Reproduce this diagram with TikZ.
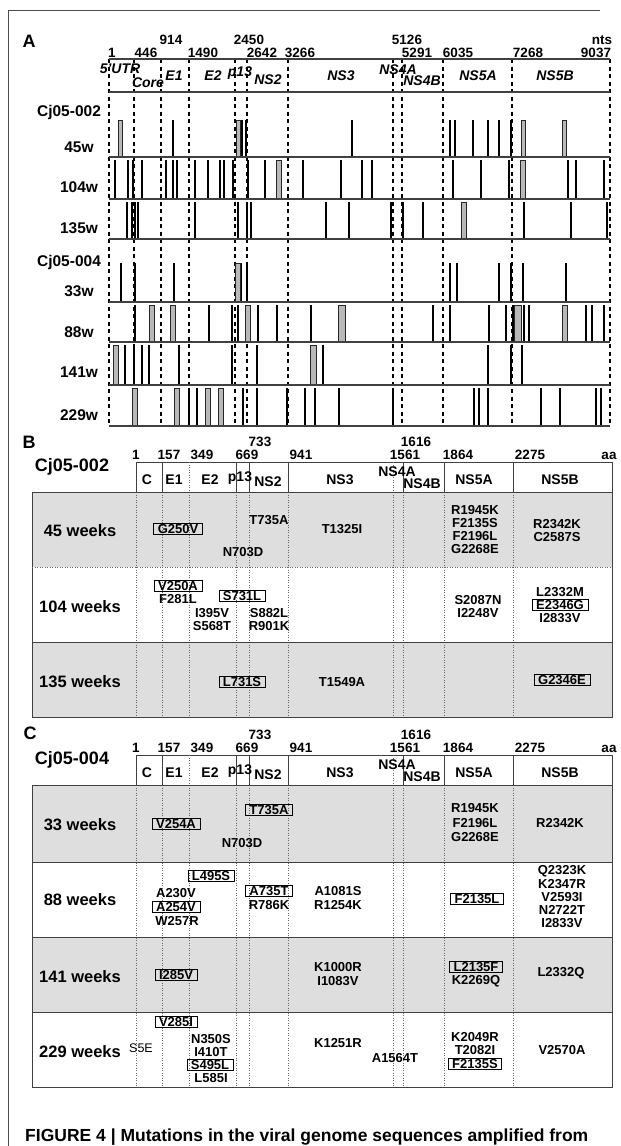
\documentclass[tikz,border=0pt]{standalone}
\usepackage{fontspec}
\setmainfont{Liberation Sans}
\newcommand\mt[4]{\node[mut] (#1) at (#2,#3) {#4};}
\newcommand\mtb[4]{\node[mutbox] (#1) at (#2,#3) {#4};}
\newcommand\hdr[3]{%
 \node[num] (#1a) at (136,#2-3) {1};
 \node[num] (#1b) at (169,#2-3) {157};
 \node[num] (#1c) at (202,#2-3) {349};
 \node[num] (#1d) at (247,#2-3) {669};
 \node[num] (#1e) at (260,#2-16) {733};
 \node[num] (#1f) at (301,#2-3) {941};
 \node[num] (#1g) at (416,#2-16) {1616};
 \node[num] (#1h) at (405,#2-3) {1561};
 \node[num] (#1i) at (458,#2-3) {1864};
 \node[num] (#1j) at (530,#2-3) {2275};
 \node[num] (#1k) at (609,#2-3) {aa};
 \node[cj] (#1cj) at (72,#2+5) {#3};
 \draw[rule] (136,#2) rectangle (612,#2+30);
 \foreach \x in {162,236,249,288,403,444,513} \draw[rule,line width=0.6pt] (\x,#2) -- (\x,#2+30);
 \foreach \x in {189,393} \draw[dotv] (\x,#2) -- (\x,#2+30);
 \node[geneb] (#1gC) at (147,#2+17.5) {C};
 \node[geneb] (#1gE1) at (174,#2+17.5) {E1};
 \node[geneb] (#1gE2) at (210,#2+17.5) {E2};
 \node[geneb] (#1gp) at (240,#2+16) {p13};
 \node[geneb] (#1gN2) at (268,#2+20) {NS2};
 \node[geneb] (#1gN3) at (340,#2+17.5) {NS3};
 \node[geneb] (#1gN4A) at (397,#2+10) {NS4A};
 \node[geneb] (#1gN4B) at (422,#2+22) {NS4B};
 \node[geneb] (#1gN5A) at (474,#2+17.5) {NS5A};
 \node[geneb] (#1gN5B) at (560,#2+17.5) {NS5B};
}
\begin{document}
\begin{tikzpicture}[x=1pt,y=-1pt,
 lbl/.style={font=\bfseries\fontsize{15.5}{16}\selectfont,inner sep=0pt},
 num/.style={font=\bfseries\fontsize{13.5}{14}\selectfont,inner sep=0pt,anchor=base},
 genea/.style={font=\bfseries\itshape\fontsize{14}{14}\selectfont,inner sep=0pt},
 geneb/.style={font=\bfseries\fontsize{14}{14}\selectfont,inner sep=0pt},
 mut/.style={font=\bfseries\fontsize{13}{13}\selectfont,inner sep=0pt},
 mutbox/.style={mut,draw,line width=0.7pt,inner xsep=4pt,inner ysep=1.2pt},
 rowlbl/.style={font=\bfseries\fontsize{16.5}{17}\selectfont,inner sep=0pt},
 cj/.style={font=\bfseries\fontsize{18}{18}\selectfont,inner sep=0pt},
 panel/.style={font=\bfseries\fontsize{18}{18}\selectfont,inner sep=0pt},
 dashv/.style={line width=1.1pt,dash pattern=on 4pt off 3.5pt},
 blk/.style={line width=1.6pt},
 gry/.style={fill=gray!55,draw=black!85,line width=0.5pt},
 baseln/.style={line width=2pt,black!75},
 dotv/.style={black!60,line width=0.6pt,dash pattern=on 1pt off 1.5pt},
 shade/.style={fill=black!13},
 rule/.style={line width=0.8pt,black!75}
]
\useasboundingbox (0,0) rectangle (621,1146);
\draw[black!70,line width=1pt] (8,1146) -- (8,10) -- (600,10);
% ---------------- Panel A
\node[panel] (A) at (29,41) {A};
\node[num] (n914) at (171,44) {914};
\node[num] (n2450) at (249,44) {2450};
\node[num] (n5126) at (407,44) {5126};
\node[num] (nnts) at (602,44) {nts};
\node[num] (n1) at (112,57) {1};
\node[num] (n446) at (146,57) {446};
\node[num] (n1490) at (203,57) {1490};
\node[num] (n2642) at (262,57) {2642};
\node[num] (n3266) at (300,57) {3266};
\node[num] (n5291) at (417,57) {5291};
\node[num] (n6035) at (458,57) {6035};
\node[num] (n7268) at (528,57) {7268};
\node[num] (n9037) at (596,57) {9037};
\foreach \x in {109,134,161,189,235,247,288,393,402,443,512,610} \draw[dashv] (\x,59) -- (\x,426);
\draw[baseln] (109,59) -- (610,59);
\draw[baseln] (109,92) -- (610,92);
\node[genea] (gUTR) at (120,69) {5'UTR};
\node[genea] (gCore) at (148,83) {Core};
\node[genea] (gE1) at (174,76) {E1};
\node[genea] (gE2) at (213,76) {E2};
\node[genea] (gp13) at (240,73) {p13};
\node[genea] (gNS2) at (268,80) {NS2};
\node[genea] (gNS3) at (341,76) {NS3};
\node[genea] (gNS4A) at (398,70) {NS4A};
\node[genea] (gNS4B) at (422,81) {NS4B};
\node[genea] (gNS5A) at (478,76) {NS5A};
\node[genea] (gNS5B) at (555,76) {NS5B};
\node[lbl] (c2) at (69,112) {Cj05-002};
\node[lbl] (w45) at (79,147) {45w};
\node[lbl] (w104) at (79,187) {104w};
\node[lbl] (w135) at (79,228) {135w};
\node[lbl] (c4) at (69,262) {Cj05-004};
\node[lbl] (w33) at (79,291) {33w};
\node[lbl] (w88) at (79,332) {88w};
\node[lbl] (w141) at (79,372) {141w};
\node[lbl] (w229) at (79,415) {229w};
% 45w
\foreach \x in {173,242,246,352,450,455,473,488,499,511} \draw[blk] (\x,120) -- (\x,157);
\foreach \x in {120,238,523,564} \filldraw[gry] (\x-2,120) rectangle (\x+2,157);
% 104w
\foreach \x in {115,128,133,142,166,173,177,195,208,220,224,233,248,265,303,341,362,372,453,481,509,568,576,604} \draw[blk] (\x,160) -- (\x,199);
\foreach \x in {279,523} \filldraw[gry] (\x-2.5,160) rectangle (\x+2.5,199);
% 135w
\foreach \x in {127,132,135,138,195,238,247,251,326,349,391,403,423,524,571,607} \draw[blk] (\x,202) -- (\x,239);
\foreach \x in {464} \filldraw[gry] (\x-2.5,202) rectangle (\x+2.5,239);
% 33w
\foreach \x in {121,135,174,241,247,450,457,499,511,523,566} \draw[blk] (\x,263) -- (\x,302);
\foreach \x in {238} \filldraw[gry] (\x-2.5,263) rectangle (\x+2.5,302);
% 88w
\foreach \x in {135,209,232,238,258,277,311,433,450,489,506,513,524,529,586,592,604} \draw[blk] (\x,305) -- (\x,342);
\foreach \x in {152,173,248,565} \filldraw[gry] (\x-2.5,305) rectangle (\x+2.5,342);
\foreach \x in {342,518} \filldraw[gry] (\x-3.5,305) rectangle (\x+3.5,342);
% 141w
\foreach \x in {125,134,142,149,179,232,257,323,488,511,522} \draw[blk] (\x,345) -- (\x,385);
\foreach \x in {116} \filldraw[gry] (\x-2.5,345) rectangle (\x+2.5,385);
\foreach \x in {313} \filldraw[gry] (\x-3,345) rectangle (\x+3,385);
% 229w
\foreach \x in {189,197,243,257,287,305,315,339,393,474,479,488,541,560,596,601} \draw[blk] (\x,388) -- (\x,426);
\foreach \x in {135,177,208,221} \filldraw[gry] (\x-2.5,388) rectangle (\x+2.5,426);
\foreach \y in {157,199,239,302,342,385,426} \draw[baseln] (109,\y) -- (610,\y);
% ---------------- Panel B
\fill[shade] (32,492) rectangle (612,567);
\fill[shade] (32,642) rectangle (612,717);
\foreach \x in {136,162,189,236,249,288,393,403,444,513} \draw[dotv] (\x,492) -- (\x,717);
\draw[rule] (32,492) rectangle (612,717);
\draw[dotv] (32,567) -- (612,567);
\draw[rule] (32,642) -- (612,642);
\node[panel] (B) at (29,442) {B};
\hdr{B}{462}{Cj05-002}
\node[rowlbl] (bw45) at (80,531) {45 weeks};
\node[rowlbl] (bw104) at (80,607) {104 weeks};
\node[rowlbl] (bw135) at (80,682) {135 weeks};
\mtb{b1}{178}{529}{G250V}
\mt{b2}{269}{520}{T735A}
\mt{b3}{243}{552}{N703D}
\mt{b4}{342}{529}{T1325I}
\mt{b5}{475}{510}{R1945K}
\mt{b6}{475}{523}{F2135S}
\mt{b7}{475}{536}{F2196L}
\mt{b8}{475}{549}{G2268E}
\mt{b9}{557}{524}{R2342K}
\mt{b10}{557}{537}{C2587S}
\mtb{b11}{178}{586}{V250A}
\mt{b12}{178}{599}{F281L}
\mtb{b13}{242}{596}{S731L}
\mt{b14}{212}{613}{I395V}
\mt{b15}{212}{626}{S568T}
\mt{b16}{269}{613}{S882L}
\mt{b17}{269}{626}{R901K}
\mt{b18}{478}{600}{S2087N}
\mt{b19}{478}{613}{I2248V}
\mt{b20}{560}{592}{L2332M}
\mtb{b21}{560}{605}{E2346G}
\mt{b22}{560}{618}{I2833V}
\mtb{b23}{242}{682}{L731S}
\mt{b24}{342}{682}{T1549A}
\mtb{b25}{562}{680}{G2346E}
% ---------------- Panel C
\fill[shade] (32,785) rectangle (612,862);
\fill[shade] (32,937) rectangle (612,1012);
\foreach \x in {136,162,189,236,249,288,393,403,444,513} \draw[dotv] (\x,785) -- (\x,1087);
\draw[rule] (32,785) rectangle (612,1087);
\foreach \y in {862,937,1012} \draw[rule] (32,\y) -- (612,\y);
\node[panel] (C) at (30,733) {C};
\hdr{C}{755}{Cj05-004}
\node[rowlbl] (cw33) at (80,825) {33 weeks};
\node[rowlbl] (cw88) at (80,900) {88 weeks};
\node[rowlbl] (cw141) at (80,977) {141 weeks};
\node[rowlbl] (cw229) at (80,1052) {229 weeks};
\mtb{c1}{176}{824}{V254A}
\mtb{c2}{269}{810}{T735A}
\mt{c3}{242}{843}{N703D}
\mt{c4}{475}{808}{R1945K}
\mt{c5}{475}{823}{F2196L}
\mt{c6}{475}{837}{G2268E}
\mt{c7}{560}{823}{R2342K}
\mtb{c8}{211}{876}{L495S}
\mt{c9}{176}{893}{A230V}
\mtb{c10}{176}{907}{A254V}
\mt{c11}{177}{921}{W257R}
\mtb{c12}{269}{891}{A735T}
\mt{c13}{269}{905}{R786K}
\mt{c14}{338}{891}{A1081S}
\mt{c15}{338}{905}{R1254K}
\mtb{c16}{477}{899}{F2135L}
\mt{c17}{562}{871}{Q2323K}
\mt{c18}{562}{884}{K2347R}
\mt{c19}{562}{897}{V2593I}
\mt{c20}{562}{910}{N2722T}
\mt{c21}{562}{923}{I2833V}
\mtb{c22}{176}{975}{I285V}
\mt{c23}{338}{967}{K1000R}
\mt{c24}{338}{981}{I1083V}
\mtb{c25}{476}{967}{L2135F}
\mt{c26}{476}{981}{K2269Q}
\mt{c27}{561}{973}{L2332Q}
\mtb{c28}{176}{1022}{V285I}
\node[font=\fontsize{12.5}{13}\selectfont,inner sep=0pt] (c29) at (141,1048) {S5E};
\mt{c30}{211}{1039}{N350S}
\mt{c31}{211}{1052}{I410T}
\mtb{c32}{210}{1065}{S495L}
\mt{c33}{211}{1078}{L585I}
\mt{c34}{338}{1043}{K1251R}
\mt{c35}{395}{1058}{A1564T}
\mt{c36}{475}{1037}{K2049R}
\mt{c37}{475}{1050}{T2082I}
\mtb{c38}{475}{1064}{F2135S}
\mt{c39}{562}{1050}{V2570A}
% caption
\node[font=\bfseries\fontsize{17.5}{18}\selectfont,anchor=west,inner sep=0pt] (cap) at (25,1137) {FIGURE 4 | Mutations in the viral genome sequences amplified from};
\end{tikzpicture}
\end{document}
